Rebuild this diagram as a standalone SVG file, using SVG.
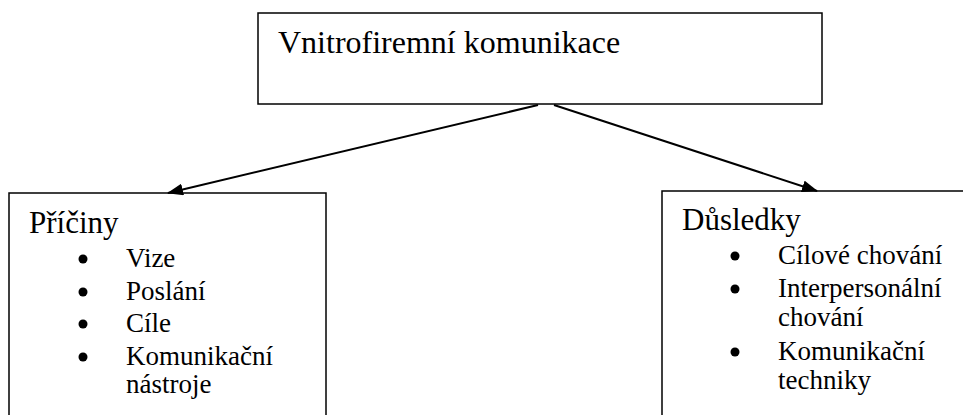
<svg xmlns="http://www.w3.org/2000/svg" width="963" height="415" viewBox="0 0 963 415">
<style>
.box{fill:#fff;stroke:#000;stroke-width:1.5}
text{fill:#000}
.conn{stroke:#000;stroke-width:2;fill:none}
</style>
<defs>
<marker id="ah" markerWidth="16" markerHeight="12" refX="15" refY="6" orient="auto" markerUnits="userSpaceOnUse">
<path d="M0,0 L16,6 L0,12 Z" fill="#000"/>
</marker>
</defs>
<g id="top">
<rect class="box" x="258" y="13" width="564" height="91"/>
<text x="278" y="53" font-family="Liberation Serif, DejaVu Serif, Noto Serif, serif" font-size="32">Vnitrofiremní komunikace</text>
</g>
<g id="priciny" font-family="Liberation Serif, DejaVu Serif, Noto Serif, serif" font-size="27">
<rect class="box" x="9" y="193" width="317" height="240"/>
<text x="29" y="233" font-size="31">Příčiny</text>
<circle cx="83" cy="259" r="4.5"/>
<text x="126" y="267">Vize</text>
<circle cx="83" cy="292" r="4.5"/>
<text x="126" y="300">Poslání</text>
<circle cx="83" cy="324" r="4.5"/>
<text x="126" y="332">Cíle</text>
<circle cx="83" cy="357" r="4.5"/>
<text x="126" y="365">Komunikační</text>
<text x="126" y="393">nástroje</text>
</g>
<g id="dusledky" font-family="Liberation Serif, DejaVu Serif, Noto Serif, serif" font-size="27">
<rect class="box" x="662" y="191" width="320" height="240"/>
<text x="682" y="230" font-size="31">Důsledky</text>
<circle cx="735" cy="256" r="4.5"/>
<text x="778" y="264">Cílové chování</text>
<circle cx="735" cy="289" r="4.5"/>
<text x="778" y="297">Interpersonální</text>
<text x="778" y="326">chování</text>
<circle cx="735" cy="352" r="4.5"/>
<text x="778" y="360">Komunikační</text>
<text x="778" y="389">techniky</text>
</g>
<g id="connectors">
<line class="conn" x1="538" y1="105" x2="168" y2="193" marker-end="url(#ah)"/>
<line class="conn" x1="554" y1="105" x2="817" y2="191" marker-end="url(#ah)"/>
</g>
</svg>
